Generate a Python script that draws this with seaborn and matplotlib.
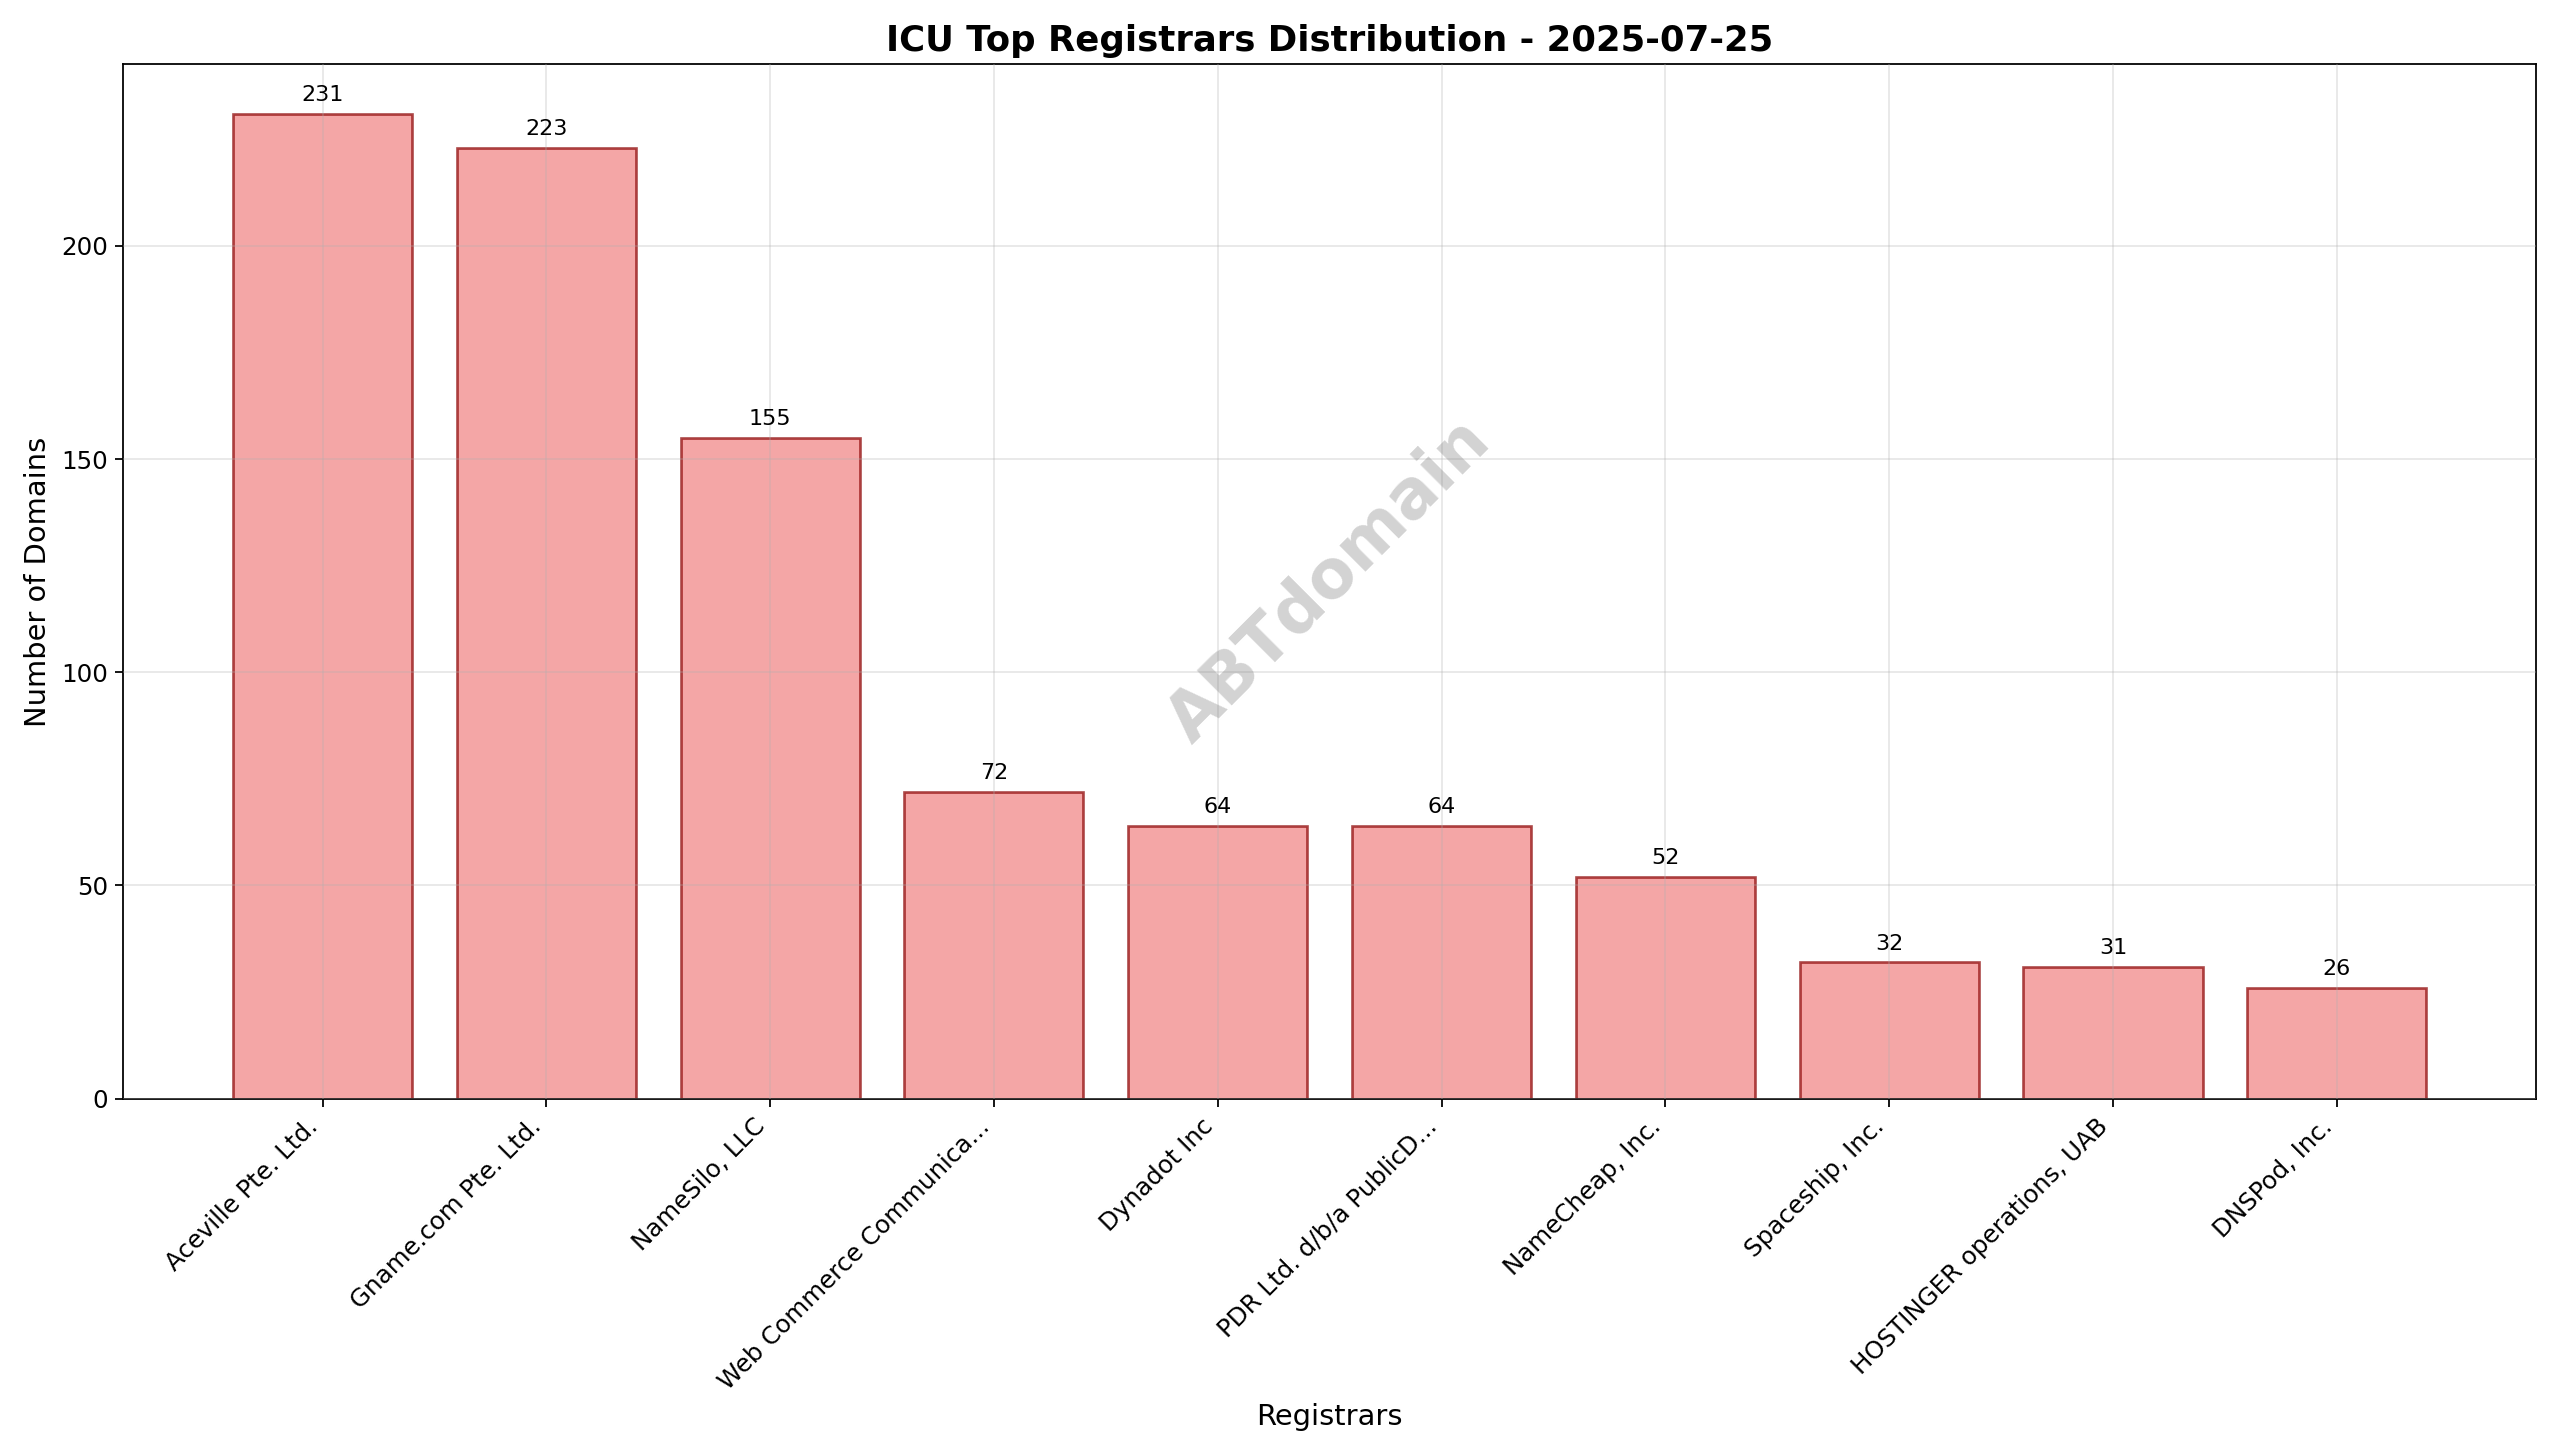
import matplotlib
matplotlib.use("Agg")
import matplotlib.pyplot as plt
import seaborn as sns
import pandas as pd

registrars = ["Aceville Pte. Ltd.", "Gname.com Pte. Ltd.", "NameSilo, LLC",
              "Web Commerce Communica...", "Dynadot Inc", "PDR Ltd. d/b/a PublicD...",
              "NameCheap, Inc.", "Spaceship, Inc.", "HOSTINGER operations, UAB", "DNSPod, Inc."]
counts = [231, 223, 155, 72, 64, 64, 52, 32, 31, 26]

df = pd.DataFrame({"registrar": registrars, "count": counts})

fig, ax = plt.subplots(figsize=(16, 9.094), dpi=160)
sns.barplot(data=df, x="registrar", y="count", ax=ax, color="lightcoral",
            saturation=1, alpha=0.7, edgecolor="darkred", linewidth=1.2, width=0.8)
for i, c in enumerate(counts):
    ax.text(i, c + 2, str(c), ha="center", va="bottom", fontsize=10)
n = len(counts)
span = (n - 1) + 0.8
ax.set_xlim(-0.4 - 0.05 * span, n - 1 + 0.4 + 0.05 * span)
ax.set_ylim(0, max(counts) * 1.05)
ax.grid(True, alpha=0.3)
ax.set_axisbelow(False)
ax.set_title("ICU Top Registrars Distribution - 2025-07-25", fontsize=16, fontweight="bold")
ax.set_xlabel("Registrars", fontsize=13)
ax.set_ylabel("Number of Domains", fontsize=13)
ax.tick_params(labelsize=11)
plt.setp(ax.get_xticklabels(), rotation=45, ha="right")
ax.text(0.5, 0.5, "ABTdomain", transform=ax.transAxes, fontsize=30, color="gray",
        alpha=0.35, rotation=45, ha="center", va="center", fontweight="bold")
fig.tight_layout()
fig.savefig("out.png", dpi=160)
